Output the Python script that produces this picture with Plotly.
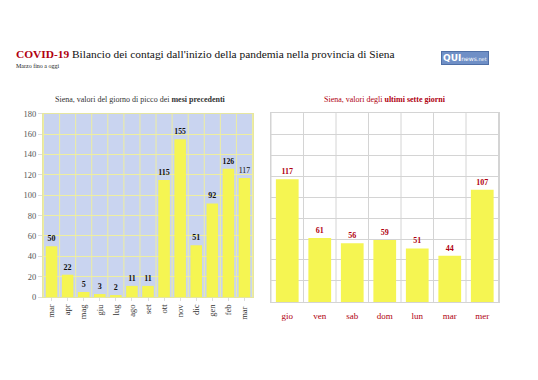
import plotly.graph_objects as go

# ---- data ----
months = ["mar", "apr", "mag", "giu", "lug", "ago", "set", "ott", "nov", "dic", "gen", "feb", "mar "]
peak_values = [50, 22, 5, 3, 2, 11, 11, 115, 155, 51, 92, 126, 117]
days = ["gio", "ven", "sab", "dom", "lun", "mar", "mer"]
week_values = [117, 61, 56, 59, 51, 44, 107]
y_ticks = [0, 20, 40, 60, 80, 100, 120, 140, 160, 180]

SERIF = "Liberation Serif, DejaVu Serif, serif"
DARKRED = "#b0000f"
BAR = "#f5f552"

W, H = 538, 380
def px(x): return x / W
def py(y): return 1 - y / H

left_text = ["<b>%d</b>" % v for v in peak_values[:-1]] + ["%d" % peak_values[-1]]

fig = go.Figure()
fig.add_trace(go.Bar(
    x=months, y=peak_values, xaxis="x", yaxis="y",
    marker=dict(color=BAR, line=dict(width=0)), width=0.72,
    text=left_text, textposition="outside", cliponaxis=False,
    textfont=dict(family=SERIF, size=8, color="#111111"),
    hoverinfo="x+y",
))
fig.add_trace(go.Bar(
    x=days, y=week_values, xaxis="x2", yaxis="y2",
    marker=dict(color=BAR, line=dict(width=0)), width=0.7,
    text=["<b>%d</b>" % v for v in week_values], textposition="outside", cliponaxis=False,
    textfont=dict(family=SERIF, size=8, color=DARKRED),
    hoverinfo="x+y",
))

shapes = [dict(type="rect", xref="x domain", yref="y domain", x0=0, x1=1, y0=0, y1=1,
               fillcolor="#c9d4f0", line=dict(width=0), layer="below")]
for i in range(len(months) + 1):
    shapes.append(dict(type="line", xref="x", yref="y domain", x0=i - 0.5, x1=i - 0.5, y0=0, y1=1,
                       line=dict(color="#eeeea0", width=1), layer="below"))
for i in range(len(days) + 1):
    shapes.append(dict(type="line", xref="x2", yref="y2 domain", x0=i - 0.5, x1=i - 0.5, y0=0, y1=1,
                       line=dict(color="#d4d4d4", width=1), layer="below"))

annotations = [
    dict(xref="paper", yref="paper", x=px(14), y=py(50), xanchor="left", yanchor="middle",
         text="<b><span style='color:%s'>COVID-19</span></b> Bilancio dei contagi dall'inizio della pandemia nella provincia di Siena" % DARKRED,
         showarrow=False, font=dict(family=SERIF, size=11.4, color="#111111")),
    dict(xref="paper", yref="paper", x=px(14), y=py(63), xanchor="left", yanchor="middle",
         text="Marzo fino a oggi", showarrow=False, font=dict(family=SERIF, size=6, color="#222222")),
    dict(xref="paper", yref="paper", x=px(140), y=py(97), xanchor="center", yanchor="middle",
         text="Siena, valori del giorno di picco dei <b>mesi precedenti</b>", showarrow=False,
         font=dict(family=SERIF, size=8, color="#333333")),
    dict(xref="paper", yref="paper", x=px(385), y=py(97), xanchor="center", yanchor="middle",
         text="Siena, valori degli <b>ultimi sette giorni</b>", showarrow=False,
         font=dict(family=SERIF, size=8, color=DARKRED)),
    dict(xref="paper", yref="paper", x=px(465), y=py(54), xanchor="center", yanchor="middle",
         text="<b>QUI</b><span style='font-size:6px'>news</span><span style='font-size:5px'>.net</span>",
         showarrow=False, bgcolor="#6f8fc6", bordercolor="#4f6fa6", borderwidth=1, borderpad=1,
         font=dict(family="DejaVu Sans, sans-serif", size=9, color="white")),
]

fig.update_layout(
    width=W, height=H, margin=dict(l=0, r=0, t=0, b=0),
    paper_bgcolor="white", plot_bgcolor="white",
    showlegend=False, bargap=0.28,
    shapes=shapes, annotations=annotations,
    xaxis=dict(domain=[px(43), px(253)], anchor="y", tickangle=-90,
               tickfont=dict(family=SERIF, size=8.5, color="#333333"),
               showgrid=False, showline=True, linecolor="#e6e6a0", mirror=True,
               ticks="outside", ticklen=3, tickcolor="#dddddd", fixedrange=True),
    yaxis=dict(domain=[py(300), py(111.7)], anchor="x", range=[0, 180], tickvals=y_ticks,
               tickfont=dict(family=SERIF, size=8.5, color="#555555"),
               showgrid=True, gridcolor="#eeeea0", gridwidth=1, zeroline=False,
               showline=True, linecolor="#e6e6a0", mirror=True, layer="below traces",
               ticks="outside", ticklen=4, tickcolor="#dddddd", fixedrange=True),
    xaxis2=dict(domain=[px(270.5), px(499)], anchor="y2",
                tickfont=dict(family=SERIF, size=9, color=DARKRED),
                ticks="outside", ticklen=5, tickcolor="rgba(0,0,0,0)",
                showgrid=False, showline=True, linecolor="#d4d4d4", mirror=True, fixedrange=True),
    yaxis2=dict(domain=[py(305), py(111)], anchor="x2", range=[0, 180], tickvals=y_ticks,
                showticklabels=False, showgrid=True, gridcolor="#d4d4d4", zeroline=False,
                showline=True, linecolor="#d4d4d4", mirror=True, fixedrange=True),
)

fig.write_html("out.html", config={"displayModeBar": False},
               post_script="document.body.style.margin='0';document.body.style.overflow='hidden';")
